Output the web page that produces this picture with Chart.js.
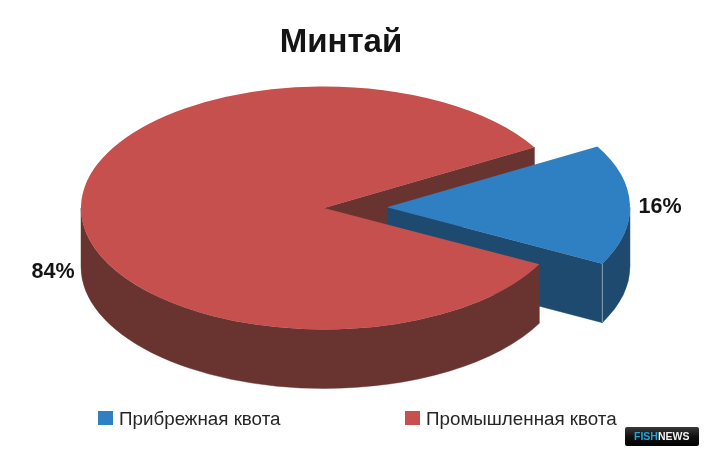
<!DOCTYPE html>
<html>
<head>
<meta charset="utf-8">
<style>html,body{margin:0;padding:0;background:#fff}#w{width:709px;height:456px;position:relative}</style>
<script src="https://cdn.jsdelivr.net/npm/chart.js@4"></script>
</head>
<body>
<div id="w"><canvas id="c" width="709" height="456"></canvas></div>
<script>
const titleText = "Минтай";
const categories = ["Прибрежная квота", "Промышленная квота"];
const shares = [16, 84];
const topColors = ["#2f80c2", "#c5504d"];
const sideColors = ["#1f4a70", "#693430"];
const logoParts = ["FISH", "NEWS"];

const FONT = '"Liberation Sans", Arial, sans-serif';
const CX = 324, CY = 208, RADIUS = 243, TILT = 0.5, DEPTH = 59, EXPLODE = 63;
const labelPos = [[660, 207], [53, 272]];
const legendPos = [[98, 411], [405, 411]];

const pie3d = {
  id: "pie3d",
  afterDatasetsUpdate(chart) {
    const arcs = chart.getDatasetMeta(0).data;
    const a = arcs[0];
    chart.$center = { x: arcs[1].x, y: arcs[1].y };
    const mid = (a.startAngle + a.endAngle) / 2;
    a.x = arcs[1].x + Math.cos(mid) * EXPLODE;
    a.y = arcs[1].y + Math.sin(mid) * EXPLODE;
  },
  beforeDatasetsDraw(chart) {
    const ctx = chart.ctx;
    const arcs = chart.getDatasetMeta(0).data;
    const D = DEPTH / TILT;
    ctx.save();
    ctx.translate(CX, CY);
    ctx.scale(1, TILT);
    ctx.translate(-chart.$center.x, -chart.$center.y);
    const fill = (i) => {
      ctx.closePath();
      ctx.fillStyle = sideColors[i];
      ctx.strokeStyle = sideColors[i];
      ctx.lineWidth = 0.6;
      ctx.fill();
      ctx.stroke();
    };
    const wall = (i) => {
      const a = arcs[i];
      const ex = a.x + a.outerRadius * Math.cos(a.endAngle);
      const ey = a.y + a.outerRadius * Math.sin(a.endAngle);
      ctx.beginPath();
      ctx.moveTo(a.x, a.y);
      ctx.lineTo(ex, ey);
      ctx.lineTo(ex, ey + D);
      ctx.lineTo(a.x, a.y + D);
      fill(i);
    };
    const side = (i) => {
      const a = arcs[i];
      const a0 = Math.max(a.startAngle, 0);
      const a1 = Math.min(a.endAngle, Math.PI);
      ctx.beginPath();
      ctx.arc(a.x, a.y, a.outerRadius, a0, a1);
      ctx.arc(a.x, a.y + D, a.outerRadius, a1, a0, true);
      fill(i);
    };
    wall(1);
    wall(0);
    side(0);
    const b = arcs[0];
    const bx = b.x + b.outerRadius * Math.cos(b.endAngle);
    const by = b.y + b.outerRadius * Math.sin(b.endAngle);
    ctx.beginPath();
    ctx.moveTo(bx, by);
    ctx.lineTo(bx, by + D);
    ctx.strokeStyle = "#a9b9c8";
    ctx.lineWidth = 1;
    ctx.stroke();
    side(1);
  },
  afterDatasetsDraw(chart) {
    chart.ctx.restore();
  },
  afterDraw(chart) {
    const ctx = chart.ctx;
    ctx.save();
    ctx.fillStyle = "#141414";
    ctx.textBaseline = "middle";
    ctx.textAlign = "center";
    ctx.font = "bold 21.5px " + FONT;
    shares.forEach((v, i) => ctx.fillText(v + "%", labelPos[i][0], labelPos[i][1]));
    ctx.textAlign = "left";
    ctx.font = "18.8px " + FONT;
    categories.forEach((t, i) => {
      const [x, y] = legendPos[i];
      ctx.fillStyle = topColors[i];
      ctx.fillRect(x, y, 15, 14);
      ctx.fillStyle = "#262626";
      ctx.fillText(t, x + 21, y + 9);
    });
    const g = ctx.createLinearGradient(0, 427, 0, 446);
    g.addColorStop(0, "#3a3a3a");
    g.addColorStop(0.5, "#111");
    g.addColorStop(1, "#000");
    ctx.fillStyle = g;
    ctx.beginPath();
    ctx.roundRect(625, 427, 74, 19, 2);
    ctx.fill();
    ctx.font = "bold 10.5px " + FONT;
    ctx.fillStyle = "#1ea7dc";
    ctx.fillText(logoParts[0], 634, 437);
    const w = ctx.measureText(logoParts[0]).width;
    ctx.fillStyle = "#f2f2f2";
    ctx.fillText(logoParts[1], 634 + w, 437);
    ctx.restore();
  }
};

new Chart(document.getElementById("c"), {
  type: "pie",
  plugins: [pie3d],
  data: {
    labels: categories,
    datasets: [{ data: shares, backgroundColor: topColors, borderWidth: 0, clip: false }]
  },
  options: {
    responsive: false,
    animation: false,
    events: [],
    rotation: 60,
    radius: RADIUS,
    layout: { padding: { right: 27 } },
    plugins: {
      legend: { display: false },
      tooltip: { enabled: false },
      title: {
        display: true,
        text: titleText,
        color: "#141414",
        font: { family: FONT, size: 33, weight: "bold" },
        padding: { top: 23, bottom: 0 }
      }
    }
  }
});
</script>
</body>
</html>
